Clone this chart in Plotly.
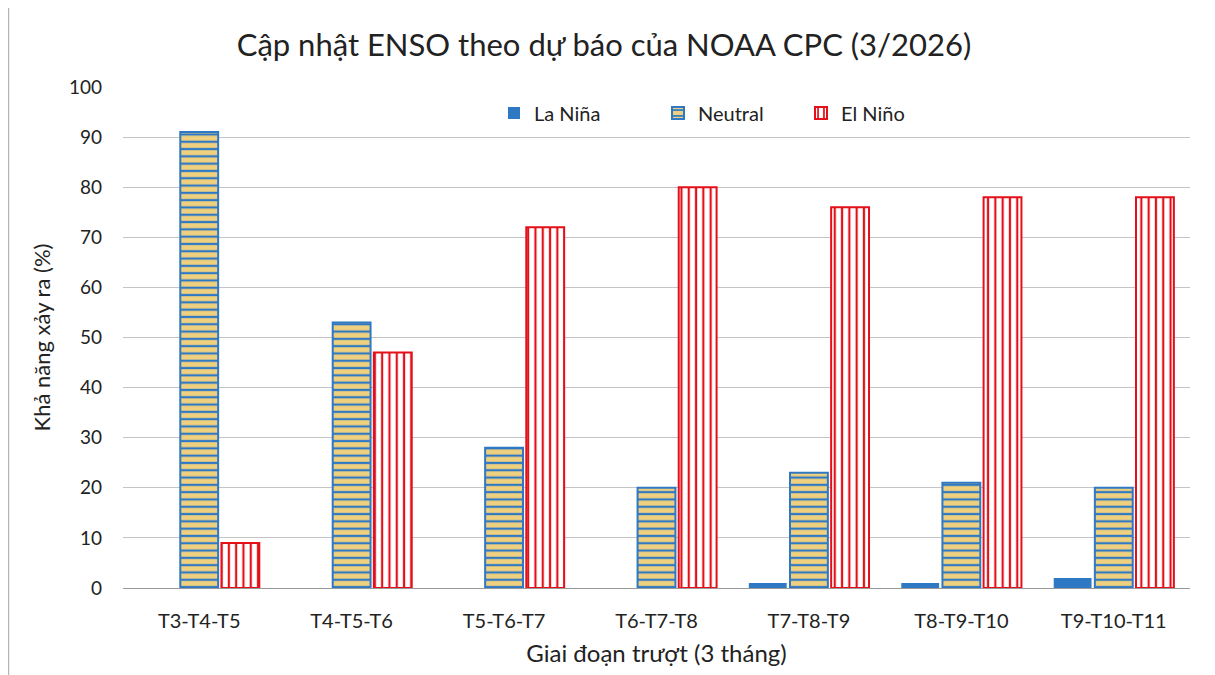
import plotly.graph_objects as go

categories = ["T3-T4-T5", "T4-T5-T6", "T5-T6-T7", "T6-T7-T8", "T7-T8-T9", "T8-T9-T10", "T9-T10-T11"]
la_nina = [0, 0, 0, 0, 1, 1, 2]
neutral = [91, 53, 28, 20, 23, 21, 20]
el_nino = [9, 47, 72, 80, 76, 78, 78]

FONT = "Lato"
BLUE = "#2f78c4"
RED = "#e3101a"
YELLOW = "#efd07f"
TXT = "#222222"

# page is drawn with an 8 px body margin, so the figure is sized to fit the window
W, H = 1207, 667
L, R, T, B = 115, 25, 79, 87
PW = W - L - R


def px_x(p):
    return (p - L) / PW


fig = go.Figure()
fig.add_trace(go.Bar(
    name="La Niña", x=categories, y=la_nina, legend="legend",
    marker=dict(color=BLUE, line=dict(color=BLUE, width=0)),
))
fig.add_trace(go.Bar(
    name="Neutral", x=categories, y=neutral, legend="legend2",
    marker=dict(color=YELLOW, line=dict(color=BLUE, width=2),
                pattern=dict(shape="-", fgcolor=BLUE, bgcolor=YELLOW, size=7.3, solidity=0.3, fillmode="replace")),
))
fig.add_trace(go.Bar(
    name="El Niño", x=categories, y=el_nino, legend="legend3",
    marker=dict(color="white", line=dict(color=RED, width=2),
                pattern=dict(shape="|", fgcolor=RED, bgcolor="white", size=7.3, solidity=0.3, fillmode="replace")),
))

leg_common = dict(orientation="h", yanchor="middle", y=1 - (105 - T) / (H - T - B),
                  xanchor="left", bgcolor="rgba(0,0,0,0)", font=dict(size=20, family=FONT, color=TXT),
                  itemwidth=30)

fig.update_layout(
    width=W, height=H,
    paper_bgcolor="white", plot_bgcolor="white",
    font=dict(family=FONT, color=TXT, size=19),
    title=dict(text="Cập nhật ENSO theo dự báo của NOAA CPC (3/2026)", x=596 / W, xanchor="center",
               y=1 - 37 / H, yanchor="middle", font=dict(size=31, family=FONT, color=TXT)),
    margin=dict(l=L, r=R, t=T, b=B),
    barmode="group", bargap=0.19, bargroupgap=0.08,
    legend=dict(leg_common, x=px_x(486)),
    legend2=dict(leg_common, x=px_x(650)),
    legend3=dict(leg_common, x=px_x(793)),
    showlegend=True,
)
fig.update_yaxes(range=[0, 100], dtick=10, showgrid=True, gridcolor="#c4c4c8", gridwidth=1,
                 zeroline=False, showline=False, ticks="", ticklabelstandoff=20,
                 tickfont=dict(size=19, family=FONT, color=TXT),
                 title=dict(text="Khả năng xảy ra (%)", font=dict(size=22, family=FONT, color=TXT), standoff=12))
fig.update_xaxes(showline=True, linecolor="#9a9a9a", linewidth=1, ticks="", ticklabelstandoff=15,
                 tickfont=dict(size=20, family=FONT, color=TXT),
                 title=dict(text="Giai đoạn trượt (3 tháng)", font=dict(size=24, family=FONT, color=TXT), standoff=14))

for p in (0.5, 1202):
    fig.add_shape(type="line", xref="paper", yref="paper", x0=px_x(p), x1=px_x(p), y0=-1, y1=2,
                  line=dict(color="#b5b5b5", width=1.5), layer="below")

fig.write_html("out.html")
